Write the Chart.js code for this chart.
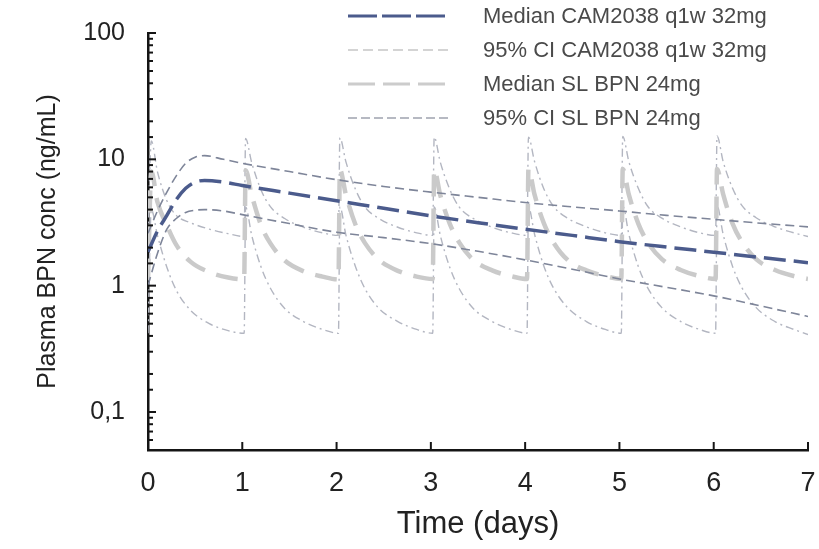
<!DOCTYPE html>
<html>
<head>
<meta charset="utf-8">
<script src="https://cdn.jsdelivr.net/npm/chart.js@4/dist/chart.umd.min.js"></script>
<style>
  html, body { margin: 0; padding: 0; background: #ffffff; }
  #wrap { width: 819px; height: 549px; }
</style>
</head>
<body>
<div id="wrap"><canvas id="c" width="819" height="549"></canvas></div>
<script>
// ---- Time grid (days) and concentrations (ng/mL) ----
const timeCAM = [0, 0.1, 0.2, 0.3, 0.4, 0.5, 0.6, 0.8, 1, 1.5, 2, 2.5, 3, 3.5, 4, 4.5, 5, 5.5, 6, 6.5, 7];
const camMedian = [1.85, 2.7, 3.6, 4.8, 5.9, 6.6, 6.8, 6.6, 6.2, 5.4, 4.7, 4.1, 3.57, 3.15, 2.8, 2.5, 2.23, 2.02, 1.84, 1.67, 1.52];
const camUpper  = [2.6, 3.9, 5.5, 7.4, 9.3, 10.4, 10.7, 10.0, 9.3, 8.0, 6.9, 6.1, 5.5, 5.0, 4.55, 4.2, 3.9, 3.6, 3.35, 3.12, 2.92];
const camLower  = [1.0, 1.8, 2.8, 3.4, 3.8, 3.95, 4.0, 3.9, 3.65, 3.1, 2.65, 2.4, 2.15, 1.87, 1.6, 1.35, 1.13, 0.97, 0.83, 0.69, 0.57];

// Daily sublingual dosing: trough, peak, then decay within each day
const timeSL = [
  0,    0.035, 0.1, 0.2, 0.3, 0.45, 0.65, 0.85,
  1.02, 1.035, 1.1, 1.2, 1.3, 1.45, 1.65, 1.85,
  2.02, 2.035, 2.1, 2.2, 2.3, 2.45, 2.65, 2.85,
  3.02, 3.035, 3.1, 3.2, 3.3, 3.45, 3.65, 3.85,
  4.02, 4.035, 4.1, 4.2, 4.3, 4.45, 4.65, 4.85,
  5.02, 5.035, 5.1, 5.2, 5.3, 5.45, 5.65, 5.85,
  6.02, 6.035, 6.1, 6.2, 6.3, 6.45, 6.65, 6.85,
  7
];
const slMedian = [
  1.1,  8.0, 4.6, 3.0,  2.1,  1.55, 1.28, 1.16,
  1.12, 8.2, 5.2, 3.0,  2.15, 1.58, 1.3,  1.18,
  1.12, 8.3, 5.2, 3.05, 2.18, 1.6,  1.31, 1.18,
  1.13, 8.3, 5.2, 3.1,  2.2,  1.6,  1.32, 1.19,
  1.13, 8.4, 5.25, 3.1, 2.2,  1.6,  1.32, 1.19,
  1.13, 8.4, 5.25, 3.1, 2.2,  1.62, 1.33, 1.19,
  1.13, 8.4, 5.3, 3.1,  2.22, 1.62, 1.33, 1.19,
  1.13
];
const slUpper = [
  2.5,  14.0, 8.0, 4.7, 3.6,  3.15, 2.8,  2.58,
  2.45, 14.6, 9.4, 5.7, 4.2,  3.4,  2.9,  2.62,
  2.5,  14.8, 9.5, 5.8, 4.2,  3.4,  2.9,  2.62,
  2.5,  15.0, 9.5, 5.8, 4.2,  3.4,  2.9,  2.62,
  2.5,  15.0, 9.6, 5.8, 4.25, 3.42, 2.92, 2.62,
  2.5,  15.2, 9.6, 5.9, 4.25, 3.42, 2.92, 2.62,
  2.5,  15.3, 9.6, 5.9, 4.3,  3.45, 2.92, 2.62,
  2.45
];
const slLower = [
  0.42, 4.0, 2.5, 1.4,  0.92, 0.64, 0.5,  0.44,
  0.42, 4.2, 2.5, 1.4,  0.95, 0.66, 0.52, 0.45,
  0.42, 4.2, 2.5, 1.42, 0.95, 0.66, 0.52, 0.45,
  0.42, 4.2, 2.5, 1.4,  0.95, 0.66, 0.52, 0.45,
  0.42, 4.2, 2.55, 1.42, 0.96, 0.67, 0.52, 0.45,
  0.42, 4.3, 2.55, 1.42, 0.96, 0.67, 0.52, 0.45,
  0.42, 4.3, 2.55, 1.42, 0.96, 0.67, 0.52, 0.45,
  0.41
];

const xTickValues = [0, 1, 2, 3, 4, 5, 6, 7];
const yLabelValues = { 0.1: '0,1', 1: '1', 10: '10', 100: '100' };

const legendLabels = [
  'Median CAM2038 q1w 32mg',
  '95% CI CAM2038 q1w 32mg',
  'Median SL BPN 24mg',
  '95% CI SL BPN 24mg'
];

const pts = (xs, ys) => xs.map((t, i) => ({ x: t, y: ys[i] }));

const FONT = "'Liberation Sans', Arial, sans-serif";

// Tick marks drawn on the inside of the axes
const inwardTicks = {
  id: 'inwardTicks',
  afterDraw(chart) {
    const { ctx, chartArea } = chart;
    const xs = chart.scales.x, ys = chart.scales.y;
    ctx.save();
    ctx.strokeStyle = '#151515';
    ctx.lineWidth = 2;
    ys.ticks.forEach(t => {
      const py = ys.getPixelForValue(t.value);
      const lg = Math.log10(t.value);
      const major = Math.abs(lg - Math.round(lg)) < 1e-6;
      const len = major ? 8 : 5;
      ctx.beginPath();
      ctx.moveTo(chartArea.left, py);
      ctx.lineTo(chartArea.left + len, py);
      ctx.stroke();
    });
    xTickValues.forEach(v => {
      const px = xs.getPixelForValue(v);
      ctx.beginPath();
      ctx.moveTo(px, chartArea.bottom);
      ctx.lineTo(px, chartArea.bottom - 8);
      ctx.stroke();
    });
    ctx.restore();
  }
};

// Legend block in the upper right of the plot
const lineLegend = {
  id: 'lineLegend',
  afterDraw(chart, args, opts) {
    const { ctx } = chart;
    ctx.save();
    opts.items.forEach((it, i) => {
      const y = opts.top + i * opts.rowGap;
      ctx.strokeStyle = it.color;
      ctx.lineWidth = it.width;
      ctx.setLineDash(it.dash);
      ctx.beginPath();
      ctx.moveTo(opts.lineStart, y);
      ctx.lineTo(opts.lineStart + opts.lineLength, y);
      ctx.stroke();
      ctx.setLineDash([]);
      ctx.fillStyle = '#4a4a4a';
      ctx.font = '22px ' + FONT;
      ctx.textBaseline = 'middle';
      ctx.textAlign = 'left';
      ctx.fillText(it.label, opts.textStart, y + 1);
    });
    ctx.restore();
  }
};

const CAM_MED = '#4b5b8c';
const CAM_CI = '#7e8599';
const SL_MED = '#cacaca';
const SL_CI = '#b3b6c1';

// Drop the label overhang padding so the plot box keeps its fixed edges
const noPad = s => { s.paddingLeft = 0; s.paddingRight = 0; s.paddingTop = 0; s.paddingBottom = 0; };

new Chart(document.getElementById('c'), {
  type: 'line',
  data: {
    datasets: [
      { label: legendLabels[0], data: pts(timeCAM, camMedian), borderColor: CAM_MED, borderWidth: 3.5, borderDash: [22, 8], cubicInterpolationMode: 'monotone' },
      { label: legendLabels[1], data: pts(timeCAM, camUpper), borderColor: CAM_CI, borderWidth: 1.6, borderDash: [9, 5], cubicInterpolationMode: 'monotone' },
      { label: legendLabels[1], data: pts(timeCAM, camLower), borderColor: CAM_CI, borderWidth: 1.6, borderDash: [9, 5], cubicInterpolationMode: 'monotone' },
      { label: legendLabels[2], data: pts(timeSL, slMedian), borderColor: SL_MED, borderWidth: 4.5, borderDash: [22, 12], cubicInterpolationMode: 'monotone' },
      { label: legendLabels[3], data: pts(timeSL, slUpper), borderColor: SL_CI, borderWidth: 1.4, borderDash: [8, 4, 2, 4], cubicInterpolationMode: 'monotone' },
      { label: legendLabels[3], data: pts(timeSL, slLower), borderColor: SL_CI, borderWidth: 1.4, borderDash: [8, 4, 2, 4], cubicInterpolationMode: 'monotone' }
    ]
  },
  options: {
    responsive: false,
    animation: false,
    devicePixelRatio: 1,
    layout: { padding: { top: 33, right: 11, bottom: 0, left: 0 } },
    elements: { point: { radius: 0, hoverRadius: 0 }, line: { fill: false } },
    plugins: {
      legend: { display: false },
      tooltip: { enabled: false },
      lineLegend: {
        top: 16, rowGap: 34, lineStart: 348, lineLength: 100, textStart: 483,
        items: [
          { label: legendLabels[0], color: CAM_MED, width: 3, dash: [29, 5] },
          { label: legendLabels[1], color: '#aaaaaa', width: 1.2, dash: [10, 5] },
          { label: legendLabels[2], color: '#cccccc', width: 3, dash: [27, 8] },
          { label: legendLabels[3], color: '#6f7585', width: 1.2, dash: [9, 4] }
        ]
      }
    },
    scales: {
      x: {
        type: 'linear',
        min: 0, max: 7,
        afterFit: s => { s.height = 99; noPad(s); },
        grid: { display: false, drawTicks: false },
        border: { display: true, color: '#151515', width: 2.5 },
        ticks: { stepSize: 1, padding: 17, color: '#222', font: { family: FONT, size: 27 } },
        title: { display: true, text: 'Time (days)', color: '#222', font: { family: FONT, size: 31 }, padding: { top: 0, bottom: 6 } }
      },
      y: {
        type: 'logarithmic',
        min: 0.05, max: 100,
        afterFit: s => { s.width = 148; noPad(s); },
        grid: { display: false, drawTicks: false },
        border: { display: true, color: '#151515', width: 2.5 },
        ticks: {
          autoSkip: false, padding: 23, color: '#222', font: { family: FONT, size: 25 },
          callback: v => (yLabelValues[v] !== undefined ? yLabelValues[v] : '')
        },
        title: { display: true, text: 'Plasma BPN conc (ng/mL)', color: '#222', font: { family: FONT, size: 25 }, padding: { top: 33, bottom: 0 } }
      }
    }
  },
  plugins: [inwardTicks, lineLegend]
});
</script>
</body>
</html>
